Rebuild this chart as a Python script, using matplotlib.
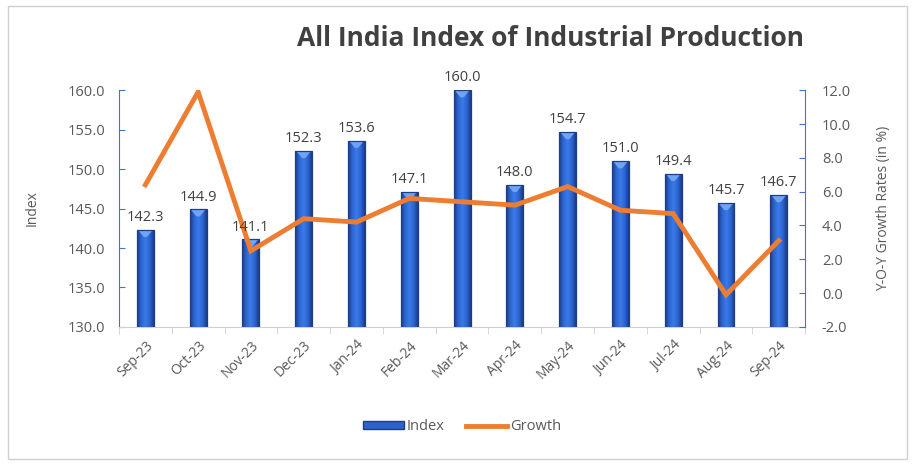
import matplotlib.pyplot as plt
from matplotlib.patches import Rectangle, Polygon
from matplotlib.lines import Line2D
from matplotlib.colors import LinearSegmentedColormap
import numpy as np

months = ['Sep-23', 'Oct-23', 'Nov-23', 'Dec-23', 'Jan-24', 'Feb-24', 'Mar-24',
          'Apr-24', 'May-24', 'Jun-24', 'Jul-24', 'Aug-24', 'Sep-24']
index_vals = [142.3, 144.9, 141.1, 152.3, 153.6, 147.1, 160.0,
              148.0, 154.7, 151.0, 149.4, 145.7, 146.7]
growth = [6.4, 11.9, 2.5, 4.4, 4.2, 5.6, 5.4, 5.2, 6.3, 4.9, 4.7, -0.1, 3.1]

grey = '#595959'
axis_blue = '#4472C4'
plt.rcParams['font.family'] = ['Open Sans', 'DejaVu Sans']

fig = plt.figure(figsize=(9.15, 4.65), dpi=100)
fig.patches.append(Rectangle((0.009, 0.012), 0.982, 0.976, transform=fig.transFigure,
                             fill=False, edgecolor='#d0d0d0', linewidth=1))

ax = fig.add_axes([0.130, 0.297, 0.750, 0.509])
x = np.arange(len(months))
bars = ax.bar(x, [v - 130 for v in index_vals], bottom=130, width=0.32,
              color='none', edgecolor='#1C3E86', linewidth=0.9, zorder=3)

# shaded bar fill, darker at the sides, light bevel on top
cmap = LinearSegmentedColormap.from_list('bar', ['#1B3C88', '#2D66D4', '#3A7BE8', '#2D66D4', '#1B3C88'])
grad = np.linspace(0, 1, 64).reshape(1, -1)
for b in bars:
    x0, y0 = b.get_x(), b.get_y()
    w, h = b.get_width(), b.get_height()
    im = ax.imshow(grad, cmap=cmap, extent=(x0, x0 + w, y0, y0 + h), aspect='auto', zorder=2)
    im.set_clip_path(b)
    top = y0 + h
    ax.add_patch(Polygon([(x0 + w * 0.08, top - 0.05), (x0 + w * 0.92, top - 0.05),
                          (x0 + w * 0.6, top - 0.9), (x0 + w * 0.4, top - 0.9)],
                         closed=True, facecolor='#6FA4F5', edgecolor='none', zorder=2.5))

ax.set_xlim(-0.5, len(months) - 0.5)
ax.set_ylim(130, 160)
ax.set_yticks(np.arange(130, 160.1, 5))
ax.set_yticklabels([f'{t:.1f}' for t in np.arange(130, 160.1, 5)])
ax.set_xticks(x)
ax.set_xticklabels(months, rotation=45, ha='right', rotation_mode='anchor')
ax.set_xticks(np.arange(-0.5, len(months)), minor=True)
ax.tick_params(axis='x', which='major', length=0, colors=grey, labelsize=10, pad=8)
ax.tick_params(axis='x', which='minor', length=5, color='#d0d0d0')
ax.tick_params(axis='y', colors=grey, labelsize=10.5, length=4, direction='in', pad=10)
ax.tick_params(axis='y', color=axis_blue)
ax.spines['top'].set_visible(False)
ax.spines['right'].set_visible(False)
ax.spines['left'].set_color(axis_blue)
ax.spines['bottom'].set_color('#d0d0d0')
ax.set_ylabel('Index', color=grey, fontsize=10, labelpad=20)

ax2 = ax.twinx()
ax2.plot(x, growth, color='#ED7D31', linewidth=3.5, solid_joinstyle='miter', zorder=3)
ax2.set_ylim(-2, 12)
ax2.set_yticks(np.arange(-2, 12.1, 2))
ax2.set_yticklabels([f'{t:.1f}' for t in np.arange(-2, 12.1, 2)])
ax2.tick_params(axis='y', colors=grey, labelsize=10.5, length=4, direction='in', pad=12)
ax2.tick_params(axis='y', color=axis_blue)
for s in ['top', 'left', 'bottom']:
    ax2.spines[s].set_visible(False)
ax2.spines['right'].set_color(axis_blue)
ax2.set_ylabel('Y-O-Y Growth Rates (in %)', color=grey, fontsize=10, labelpad=18)

# data labels on top of everything
for xi, v in zip(x, index_vals):
    ax2.text(xi, v + 0.6, f'{v:.1f}', ha='center', va='bottom', fontsize=10.5,
             color='#404040', transform=ax.transData, zorder=5)

fig.text(0.602, 0.918, 'All India Index of Industrial Production', ha='center', va='center',
         fontsize=19, fontweight='bold', color='#404040')

handles = [Rectangle((0, 0), 1, 1, facecolor='#2F62C8', edgecolor='#1C3E86'),
           Line2D([0], [0], color='#ED7D31', linewidth=3.5)]
fig.legend(handles, ['Index', 'Growth'], loc='center', bbox_to_anchor=(0.505, 0.082),
           ncol=2, frameon=False, fontsize=10.5, labelcolor=grey, handlelength=2.8,
           handleheight=0.5, handletextpad=0.2, columnspacing=1.5)

fig.savefig('out.png', dpi=100)
